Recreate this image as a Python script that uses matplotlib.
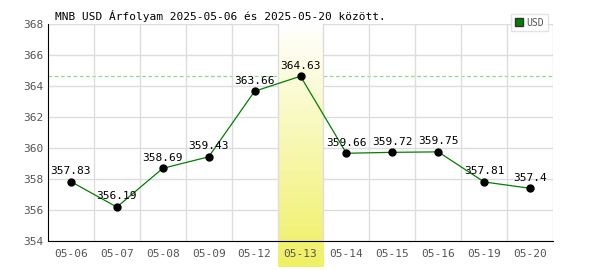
import matplotlib
matplotlib.use("Agg")
import matplotlib.pyplot as plt
import matplotlib.patches as mpatches
import numpy as np

datumok = ["05-06", "05-07", "05-08", "05-09", "05-12", "05-13",
           "05-14", "05-15", "05-16", "05-19", "05-20"]
arfolyam = [357.83, 356.19, 358.69, 359.43, 363.66, 364.63,
            359.66, 359.72, 359.75, 357.81, 357.4]
cimkek = ["357.83", "356.19", "358.69", "359.43", "363.66", "364.63",
          "359.66", "359.72", "359.75", "357.81", "357.4"]
kiemelt = 5  # 05-13 oszlop kiemelve

plt.rcParams['font.family'] = ['DejaVu Sans Mono', 'DejaVu Sans']

fig = plt.figure(figsize=(6, 2.7), dpi=100)
ax = fig.add_axes([48/600, 1 - 241/270, 505/600, 217/270])

x = np.arange(len(datumok))
ymin, ymax = 354, 368

# szürke rács
ax.set_xlim(-0.5, len(datumok) - 0.5)
ax.set_ylim(ymin, ymax)
ax.set_yticks(np.arange(354, 369, 2))
ax.set_xticks(x)
ax.set_xticks(np.append(x + 0.5, []), minor=True)
ax.grid(True, axis='y', color='#dddddd', linewidth=1)
ax.grid(True, axis='x', which='minor', color='#dddddd', linewidth=1)
ax.set_axisbelow(True)
ax.xaxis.set_zorder(2.5)  # dátum feliratok a sáv fölött

# maximum szaggatott vonal
ax.axhline(max(arfolyam), color='#88dd88', linestyle=(0, (3, 2)), linewidth=0.9, zorder=0.8)

# kiemelő sáv, színátmenettel (lenyúlik a tengely alá)
grad = np.linspace(0, 1, 256).reshape(-1, 1)
cols = np.zeros((256, 1, 3))
top = np.array([1.0, 1.0, 1.0])
bot = np.array([240, 240, 100]) / 255
cols[:, 0, :] = top + (bot - top) * grad
ybot = ymin - (267 - 241) / (217 / 14)
ax.imshow(cols, extent=[kiemelt - 0.5, kiemelt + 0.5, ybot, ymax],
          aspect='auto', origin='upper', zorder=1, clip_on=False)

ax.plot(x, arfolyam, color='#008000', linewidth=0.9, zorder=3)
ax.plot(x, arfolyam, 'o', color='black', markersize=5, zorder=4)
for xi, yi, c in zip(x, arfolyam, cimkek):
    ax.annotate(c, (xi, yi), xytext=(0, 4), textcoords='offset points',
                ha='center', va='bottom', fontsize=8, color='black', zorder=5)

ax.set_xticklabels(datumok)
ax.tick_params(axis='both', which='both', length=0, labelsize=8, labelcolor='#555555')
ax.tick_params(axis='x', pad=6)
ax.tick_params(axis='y', pad=3)

for s in ['top', 'right']:
    ax.spines[s].set_visible(False)
ax.spines['left'].set_color('black')
ax.spines['bottom'].set_color('black')
ax.spines['left'].set_zorder(6)
ax.spines['bottom'].set_zorder(6)

fig.text(55/600, 1 - 16/270, "MNB USD Árfolyam 2025-05-06 és 2025-05-20 között.",
         fontsize=8, color='black', va='center', ha='left')

# jelmagyarázat
leg = ax.legend(handles=[mpatches.Patch(facecolor='#008000', edgecolor='#333333', label='USD')],
                loc='upper right', bbox_to_anchor=(1.0, 1.07), fontsize=7,
                frameon=True, fancybox=False, handlelength=0.8, handleheight=0.8,
                handletextpad=0.4, borderpad=0.4, edgecolor='#dddddd')
for t in leg.get_texts():
    t.set_color('#555555')
leg.set_zorder(10)

fig.savefig("out.png", dpi=100)
